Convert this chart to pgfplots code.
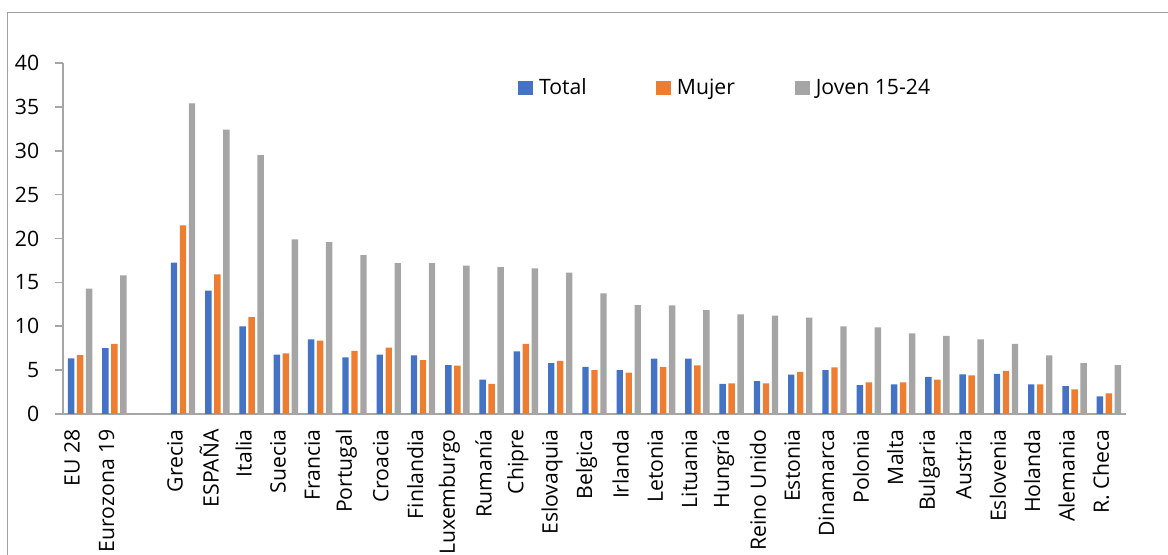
\documentclass[border=0pt]{standalone}
\usepackage{pgfplots}
\pgfplotsset{compat=1.18}
\usepackage{fontspec}
\setmainfont{Open Sans}
\definecolor{cblue}{RGB}{68,114,196}
\definecolor{corange}{RGB}{237,125,49}
\definecolor{cgray}{RGB}{165,165,165}
\definecolor{axgray}{RGB}{166,166,166}
\definecolor{framegray}{RGB}{160,160,160}
\newcommand{\lblfont}{\fontsize{10.6}{12.7}\selectfont}
\begin{document}
\lblfont
\begin{tikzpicture}
\path[use as bounding box] (-31.5pt,-70.5pt) rectangle (552.5pt,207pt);
\draw[framegray, line width=0.5pt] (-27.75pt,-71pt) -- (-27.75pt,200.75pt) -- (553pt,200.75pt);
\begin{axis}[
  width=531.5pt, height=175.5pt, scale only axis,
  ybar=1.3pt, bar width=3.2pt,
  xmin=-0.5, xmax=30.5, ymin=0, ymax=40,
  axis x line*=bottom, axis y line*=left,
  axis line style={axgray, line width=0.75pt, -},
  ytick={0,5,...,40},
  xtick={0,...,30},
  xticklabels={EU 28,Eurozona 19,{},Grecia,ESPAÑA,Italia,Suecia,Francia,Portugal,Croacia,Finlandia,Luxemburgo,Rumanía,Chipre,Eslovaquia,Belgica,Irlanda,Letonia,Lituania,Hungría,Reino Unido,Estonia,Dinamarca,Polonia,Malta,Bulgaria,Austria,Eslovenia,Holanda,Alemania,R. Checa},
  minor xtick={-0.5,0.5,...,30.5},
  tick align=outside,
  major tick length=4pt, minor tick length=4pt,
  xtick style={draw=none},
  ytick style={axgray, line width=0.75pt},
  minor x tick style={axgray, line width=0.75pt},
  tick label style={font=\lblfont, text=black},
  /pgf/number format/assume math mode=true,
  x tick label style={font=\lblfont, rotate=90, anchor=east, yshift=4pt},
  y tick label style={font=\lblfont, xshift=-4.2pt},
  legend columns=3,
  legend style={draw=none, fill=none, at={(axis description cs:0.428,0.929)}, anchor=west, inner sep=0pt,
    font=\lblfont,
    /tikz/every even column/.append style={column sep=0pt}},
  legend image code/.code={\fill[#1,draw=none] (0pt,-3.4pt) rectangle (7.4pt,3.4pt);},
]
\addplot[fill=cblue, draw=none] coordinates {
(0,6.35) (1,7.5) (3,17.25) (4,14.05) (5,9.99) (6,6.76) (7,8.5) (8,6.45) (9,6.76) (10,6.69)
(11,5.58) (12,3.91) (13,7.14) (14,5.81) (15,5.36) (16,5.01) (17,6.3) (18,6.3) (19,3.42) (20,3.76)
(21,4.48) (22,5.01) (23,3.3) (24,3.38) (25,4.22) (26,4.52) (27,4.56) (28,3.38) (29,3.19) (30,2.02)};
\addplot[fill=corange, draw=none] coordinates {
(0,6.7) (1,8.0) (3,21.5) (4,15.9) (5,11.05) (6,6.9) (7,8.35) (8,7.2) (9,7.55) (10,6.15)
(11,5.5) (12,3.42) (13,7.98) (14,6.04) (15,5.01) (16,4.71) (17,5.36) (18,5.55) (19,3.5) (20,3.5)
(21,4.79) (22,5.32) (23,3.61) (24,3.61) (25,3.91) (26,4.41) (27,4.9) (28,3.38) (29,2.81) (30,2.36)};
\addplot[fill=cgray, draw=none] coordinates {
(0,14.3) (1,15.8) (3,35.4) (4,32.4) (5,29.5) (6,19.9) (7,19.6) (8,18.1) (9,17.2) (10,17.2)
(11,16.9) (12,16.75) (13,16.6) (14,16.1) (15,13.75) (16,12.42) (17,12.38) (18,11.85) (19,11.36) (20,11.2)
(21,10.98) (22,9.99) (23,9.87) (24,9.19) (25,8.89) (26,8.51) (27,7.98) (28,6.69) (29,5.81) (30,5.58)};
\addlegendentry{\makebox[57.5pt][l]{\hspace{1pt}Total}}
\addlegendentry{\makebox[58pt][l]{\hspace{1pt}Mujer}}
\addlegendentry{\hspace{1pt}Joven 15-24}
\end{axis}
\end{tikzpicture}
\end{document}
